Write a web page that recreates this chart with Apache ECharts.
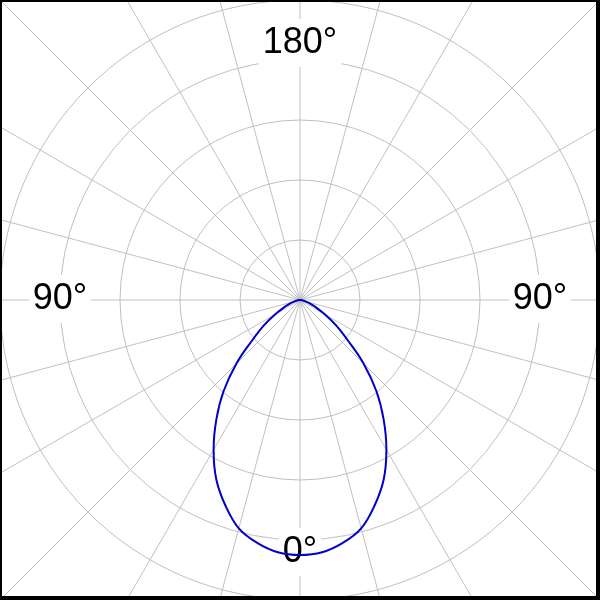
<!DOCTYPE html>
<html>
<head>
<meta charset="utf-8">
<script src="https://cdn.jsdelivr.net/npm/echarts@6/dist/echarts.min.js"></script>
<style>html,body{margin:0;padding:0;background:#fff}#c{width:600px;height:600px}</style>
</head>
<body>
<div id="c"></div>
<script>
// Angle from nadir (degrees) and luminous intensity (symmetric distribution)
const angles = [0, 5, 10, 15, 20, 25, 30, 35, 40, 45, 50, 55, 60, 65, 70, 75, 80, 85, 90];
const intensity = [425, 422, 411, 394, 364, 330, 288, 243, 198, 150, 103, 73, 47, 30, 18, 10, 5, 2, 0];
const radiusMax = 500;
const radiusStep = 100;
const angleStep = 15;
const angleLabels = ['0°', '90°', '180°', '90°'];

const data = [];
for (let i = angles.length - 1; i >= 1; i--) data.push([intensity[i], 360 - angles[i]]);
for (let i = 0; i < angles.length; i++) data.push([intensity[i], angles[i]]);

const gray = '#c0c0c0';
const labelFont = '36px "Liberation Sans", Arial, sans-serif';
function lbl(text, x, y) {
  return {
    type: 'text', z: 1, x: x, y: y,
    style: { text: text, font: labelFont, fill: '#000', align: 'center', verticalAlign: 'middle',
      backgroundColor: '#fff', padding: [6, 4] }
  };
}

const chart = echarts.init(document.getElementById('c'), null, { renderer: 'canvas' });
chart.setOption({
  animation: false,
  backgroundColor: '#fff',
  polar: [
    { center: [300, 300], radius: 300 },
    { center: [300, 300], radius: 430 }
  ],
  angleAxis: [
    { polarIndex: 0, type: 'value', min: 0, max: 360, interval: angleStep, startAngle: -90, clockwise: true,
      axisLine: { show: false }, axisTick: { show: false }, axisLabel: { show: false }, splitLine: { show: false } },
    { polarIndex: 1, type: 'value', min: 0, max: 360, interval: angleStep, startAngle: -90, clockwise: true,
      axisLine: { show: false }, axisTick: { show: false }, axisLabel: { show: false },
      splitLine: { show: true, lineStyle: { color: gray, width: 1 } } }
  ],
  radiusAxis: [
    { polarIndex: 0, type: 'value', min: 0, max: radiusMax, interval: radiusStep,
      axisLine: { show: false }, axisTick: { show: false }, axisLabel: { show: false },
      splitLine: { show: true, lineStyle: { color: gray, width: 1 } } },
    { polarIndex: 1, type: 'value', min: 0, max: radiusMax, show: false }
  ],
  series: [{
    type: 'line', coordinateSystem: 'polar', polarIndex: 0, z: 3,
    data: data, showSymbol: false, smooth: 0.4,
    lineStyle: { color: '#0000c8', width: 2 }
  }],
  graphic: [
    lbl(angleLabels[2], 300, 43),
    lbl(angleLabels[1], 60, 299),
    lbl(angleLabels[3], 540, 299),
    lbl(angleLabels[0], 300, 552),
    { type: 'rect', z: 10, shape: { x: 0, y: 0, width: 600, height: 2 }, style: { fill: '#000' } },
    { type: 'rect', z: 10, shape: { x: 0, y: 0, width: 2, height: 600 }, style: { fill: '#000' } },
    { type: 'rect', z: 10, shape: { x: 596, y: 0, width: 4, height: 600 }, style: { fill: '#000' } },
    { type: 'rect', z: 10, shape: { x: 0, y: 596, width: 600, height: 4 }, style: { fill: '#000' } }
  ]
});
</script>
</body>
</html>
